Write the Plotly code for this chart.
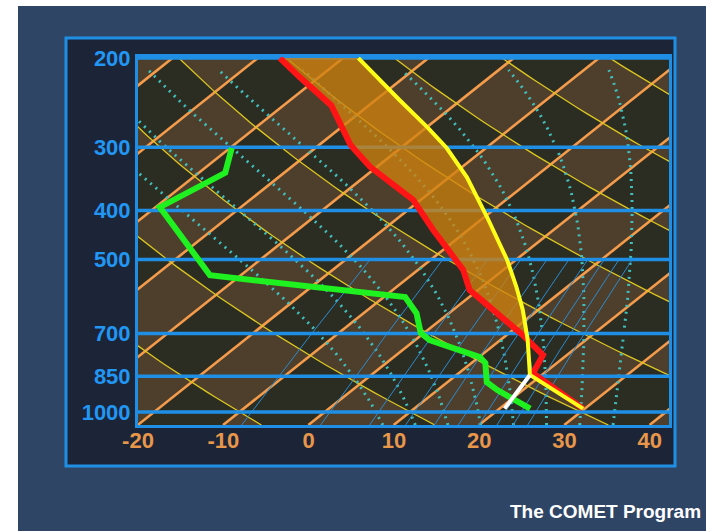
import numpy as np
import plotly.graph_objects as go

# ---- sounding data (pressure hPa, temperature degC) ----
temp_p = [985, 838, 772, 705, 574, 524, 485, 437, 381, 365, 328, 297, 248, 218, 200]
temp_c = [29.8, 18.7, 17.2, 11.9, -1.0, -4.7, -8.7, -14.1, -20.9, -23.8, -30.8, -36.3, -44.4, -52.3, -57.4]

dew_p = [985, 905, 873, 800, 779, 721, 698, 638, 593, 537, 394, 337, 301]
dew_c = [23.6, 17.0, 14.6, 11.6, 10.1, 1.7, -0.4, -3.8, -7.5, -33.6, -49.5, -46.9, -49.8]

parcel_p = [985, 845, 721, 629, 567, 501, 412, 344, 301, 274, 242, 200]
parcel_c = [29.8, 18.6, 13.2, 8.2, 4.1, -1.0, -9.7, -17.9, -24.6, -29.9, -37.2, -48.2]

lift_p = [985, 845]      # mixing-ratio path from the surface to the LCL
lift_c = [20.6, 18.6]

lfc_p = 721              # level of free convection (parcel meets environment)

# ---- diagram reference lines ----
pressure_levels = [1000, 850, 700, 500, 400, 300, 200]
temp_ticks = [-20, -10, 0, 10, 20, 30, 40]
isotherm_c = list(range(-120, 60, 10))
theta_c = list(range(-30, 230, 20))          # dry adiabats (potential temperature, degC)
theta_w_c = [6, 10, 14, 18, 22, 26, 30, 34]  # saturated adiabats (wet-bulb pot. temp, degC)
mix_gkg = [2, 4, 6, 8, 10, 12, 14, 16, 18, 20]

# ---- skew-T geometry ----
SKEW = 32.4
P_BOT, P_TOP = 1061.0, 199.0
X_MIN, X_MAX = -20.0, 42.25


def skx(t, p):
    return np.asarray(t, float) + SKEW * np.log(1060.0 / np.asarray(p, float))


def es(tc):
    return 6.112 * np.exp(17.67 * tc / (tc + 243.5))


def moist_adiabat(tw):
    Rd, cp, Lv, eps = 287.04, 1005.7, 2.501e6, 0.622

    def dtdp(t, p):
        tc = t - 273.15
        e = es(tc)
        rs = eps * e / (p - e)
        return (Rd * t + Lv * rs) / (p * (cp + Lv * Lv * rs * eps / (Rd * t * t)))

    def integrate(p_end):
        n = 400
        pp = np.linspace(1000.0, p_end, n)
        tt = [tw + 273.15]
        for i in range(n - 1):
            h = pp[i + 1] - pp[i]
            t, p = tt[-1], pp[i]
            k1 = dtdp(t, p)
            k2 = dtdp(t + h * k1 / 2, p + h / 2)
            k3 = dtdp(t + h * k2 / 2, p + h / 2)
            k4 = dtdp(t + h * k3, p + h)
            tt.append(t + h * (k1 + 2 * k2 + 2 * k3 + k4) / 6)
        return pp, np.array(tt) - 273.15

    pu, tu = integrate(P_TOP)
    pd, td = integrate(P_BOT)
    p = np.concatenate([pd[::-1], pu[1:]])
    t = np.concatenate([td[::-1], tu[1:]])
    return t, p


def joined(curves):
    xs, ys = [], []
    for x, y in curves:
        xs += list(x) + [None]
        ys += list(y) + [None]
    return xs, ys


fig = go.Figure()

# checkerboard shading between isotherms and dry adiabats
nx, ny = 531, 368
gx = X_MIN + (np.arange(nx) + 0.5) * (X_MAX - X_MIN) / nx
lg = np.log10(P_BOT) - (np.arange(ny) + 0.5) * (np.log10(P_BOT) - np.log10(P_TOP)) / ny
gp = 10 ** lg
XX, PP = np.meshgrid(gx, gp)
TT = XX - SKEW * np.log(1060.0 / PP)
TH = (TT + 273.15) * (1000.0 / PP) ** 0.286 - 273.15
parity = (np.floor(TT / 10.0) + np.floor((TH - 10.0) / 20.0)) % 2
fig.add_trace(go.Heatmap(
    x=gx, y=gp, z=parity.astype(np.uint8), zmin=0, zmax=1,
    colorscale=[[0, '#2c2d22'], [1, '#4d3f2c']], showscale=False,
    hoverinfo='skip', zsmooth=False))

# isotherms
pe = np.array([P_BOT, P_TOP])
xs, ys = joined([(skx(t, pe), pe) for t in isotherm_c])
fig.add_trace(go.Scatter(x=xs, y=ys, mode='lines',
                         line=dict(color='#f49c4c', width=2.6), hoverinfo='skip'))

# dry adiabats
pg = np.geomspace(P_BOT, P_TOP, 80)
xs, ys = joined([(skx((th + 273.15) * (pg / 1000.0) ** 0.286 - 273.15, pg), pg) for th in theta_c])
fig.add_trace(go.Scatter(x=xs, y=ys, mode='lines',
                         line=dict(color='#dcc620', width=1.3), hoverinfo='skip'))

# saturated adiabats
curves = []
for tw in theta_w_c:
    t, p = moist_adiabat(tw)
    curves.append((skx(t, p)[::8], p[::8]))
xs, ys = joined(curves)
fig.add_trace(go.Scatter(x=xs, y=ys, mode='lines',
                         line=dict(color='#40bfbd', width=3, dash='2px,5px'), hoverinfo='skip'))

# mixing-ratio lines below 500 hPa
pm = np.geomspace(P_BOT, 500.0, 30)
curves = []
for w in mix_gkg:
    r = w / 1000.0
    e = r * pm / (0.622 + r)
    a = np.log(e / 6.112)
    td = 243.5 * a / (17.67 - a)
    curves.append((skx(td, pm), pm))
xs, ys = joined(curves)
fig.add_trace(go.Scatter(x=xs, y=ys, mode='lines',
                         line=dict(color='#2a8bd0', width=1), hoverinfo='skip'))

# isobars
xs, ys = joined([([X_MIN - 1, X_MAX + 1], [p, p]) for p in pressure_levels])
fig.add_trace(go.Scatter(x=xs, y=ys, mode='lines',
                         line=dict(color='#1f8fe6', width=3.5), hoverinfo='skip'))

# positive area (parcel warmer than environment above the LFC)
cape_pp = [p for p in parcel_p if p <= lfc_p]
cape_pt = [t for p, t in zip(parcel_p, parcel_c) if p <= lfc_p]
cape_ep = [p for p in temp_p if p <= lfc_p][::-1]
cape_et = [t for p, t in zip(temp_p, temp_c) if p <= lfc_p][::-1]
poly_p = cape_pp + cape_ep
poly_t = cape_pt + cape_et
fig.add_trace(go.Scatter(x=skx(poly_t, poly_p), y=poly_p, mode='none', fill='toself',
                         fillcolor='rgba(208,130,16,0.78)', hoverinfo='skip'))

# negative area between the LCL and the LFC
lcl_p = lift_p[-1]
cin_pp = [p for p in parcel_p if lfc_p <= p <= lcl_p]
cin_pt = [t for p, t in zip(parcel_p, parcel_c) if lfc_p <= p <= lcl_p]
cin_ep = [p for p in temp_p if lfc_p < p < lcl_p]
cin_et = [t for p, t in zip(temp_p, temp_c) if lfc_p < p < lcl_p]
fig.add_trace(go.Scatter(x=skx(cin_pt + cin_et, cin_pp + cin_ep), y=cin_pp + cin_ep,
                         mode='none', fill='toself', fillcolor='rgba(50,140,215,0.9)',
                         hoverinfo='skip'))

# sounding curves
fig.add_trace(go.Scatter(x=skx(temp_c, temp_p), y=temp_p, mode='lines',
                         line=dict(color='#ff1515', width=6), hoverinfo='skip'))
fig.add_trace(go.Scatter(x=skx(dew_c, dew_p), y=dew_p, mode='lines',
                         line=dict(color='#1ff01f', width=6), hoverinfo='skip'))
fig.add_trace(go.Scatter(x=skx(parcel_c, parcel_p), y=parcel_p, mode='lines',
                         line=dict(color='#ffff1a', width=4), hoverinfo='skip'))
fig.add_trace(go.Scatter(x=skx(lift_c, lift_p), y=lift_p, mode='lines',
                         line=dict(color='#ffffff', width=4), hoverinfo='skip'))

# page backdrop and frame
W, H = 706, 531
L, R, T, B = 138, 37, 57, 106
pw, ph = W - L - R, H - T - B


def px(x):
    return (x - L) / pw


def py(y):
    return (H - B - y) / ph


fig.add_shape(type='rect', xref='paper', yref='paper', layer='below',
              x0=px(18), x1=px(W + 2), y0=py(H + 2), y1=py(6),
              fillcolor='#2f4566', line=dict(width=0))
fig.add_shape(type='rect', xref='paper', yref='paper', layer='below',
              x0=px(66), x1=px(675), y0=py(466), y1=py(38),
              fillcolor='#1c2537', line=dict(color='#1f8fe6', width=3))

fig.add_annotation(text='<b>The COMET Program</b>', xref='paper', yref='paper',
                   x=px(703), y=py(512), xanchor='right', yanchor='middle',
                   showarrow=False, font=dict(family='Liberation Sans, Arial', size=19, color='white'))

tick_font = dict(family='Liberation Sans, Arial', size=22)
fig.update_layout(
    width=W, height=H, margin=dict(l=L, r=R, t=T, b=B),
    paper_bgcolor='white', plot_bgcolor='#2d2e23',
    showlegend=False, hovermode=False,
    xaxis=dict(range=[X_MIN, X_MAX], tickvals=temp_ticks,
               ticktext=['<b>%d</b>' % v for v in temp_ticks],
               tickfont=dict(color='#e8964a', **tick_font), ticklabelstandoff=-6,
               showgrid=False, zeroline=False, ticks='',
               showline=True, mirror=True, linecolor='#1f8fe6', linewidth=3),
    yaxis=dict(type='log', range=[np.log10(P_BOT), np.log10(P_TOP)],
               tickvals=pressure_levels,
               ticktext=['<b>%d</b>' % v for v in pressure_levels],
               tickfont=dict(color='#2196f3', **tick_font),
               showgrid=False, zeroline=False, ticks='',
               showline=True, mirror=True, linecolor='#1f8fe6', linewidth=3),
)

fig.write_html('out.html')
